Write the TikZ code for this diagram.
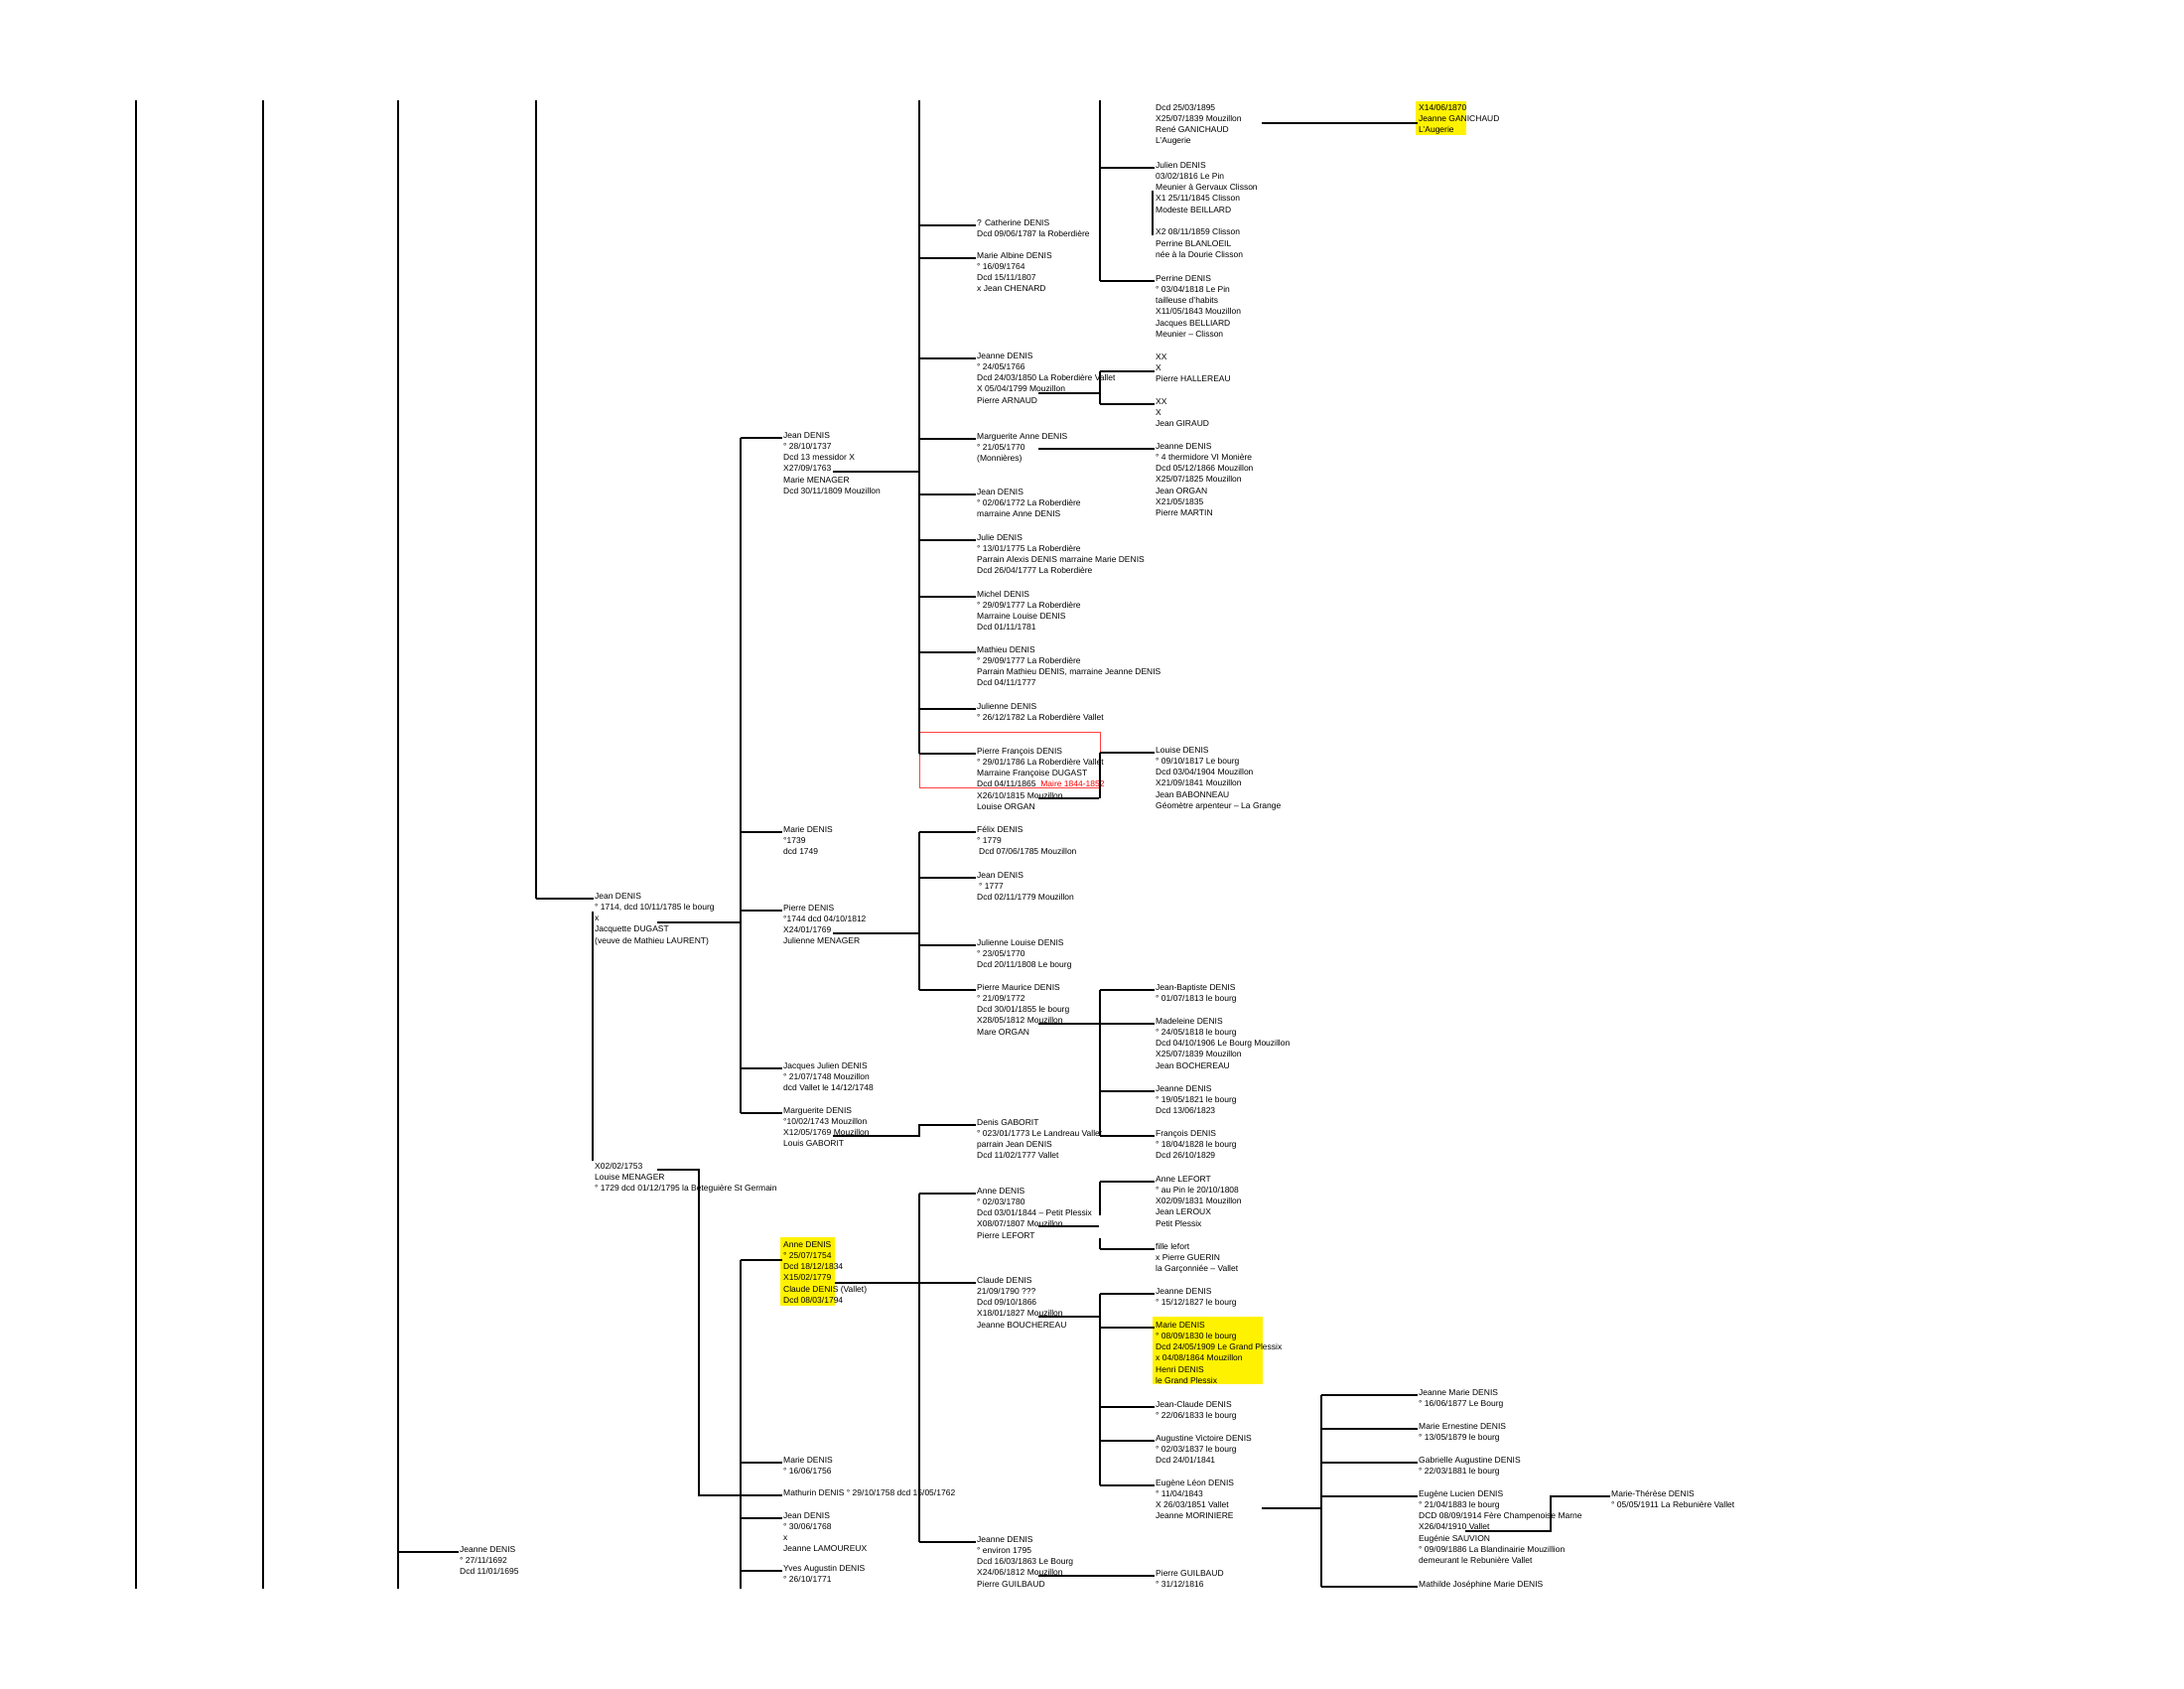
\documentclass[tikz,border=0pt]{standalone}
\usepackage{fontspec}
\setmainfont{Liberation Sans}
\usepackage{tikz}

% one text block per person, its baseline on the first line
\newcommand{\card}[1]{\begin{tabular}[t]{@{}l@{}}#1\end{tabular}}

\begin{document}
\begin{tikzpicture}[x=1pt, y=-1pt,
  person/.style={anchor=base west, inner sep=0pt, font=\fontsize{8.5}{11.3}\selectfont},
  link/.style={line width=1.2pt, shorten >=1.5pt},
  bus/.style={line width=1.6pt},
  page/.style={line width=1.3pt}]

  \useasboundingbox (0,0) rectangle (2200,1700);

  % bus lines of each generation
  \coordinate (busA) at (540,0);
  \coordinate (busB) at (746,0);
  \coordinate (busC) at (926,0);
  \coordinate (busD) at (1108,0);
  \coordinate (busE) at (1331,0);
  \coordinate (busF) at (1562,0);

  % highlights
  \fill[yellow] (786,1246) rectangle (841,1315);
  \fill[yellow] (1161,1326) rectangle (1272,1394);
  \fill[yellow] (1426,102) rectangle (1477,136);

  % Maire box
  \draw[red!75, line width=0.9pt] (926,737) rectangle (1108,793);

  % first columns
  \node[person] (jeanne1692) at (463,1563) {\card{Jeanne DENIS\\° 27/11/1692\\Dcd 11/01/1695}};
  \node[person] (jean1714) at (599,905) {\card{Jean DENIS\\° 1714, dcd 10/11/1785 le bourg\\x\\Jacquette DUGAST\\(veuve de Mathieu LAURENT)}};
  \node[person] (louise) at (599,1177) {\card{X02/02/1753\\Louise MENAGER\\° 1729 dcd 01/12/1795 la Beteguière St Germain}};

  % children of Jean DENIS
  \node[person] (jean1737) at (789,441) {\card{Jean DENIS\\° 28/10/1737\\Dcd 13 messidor X\\X27/09/1763\\Marie MENAGER\\Dcd 30/11/1809 Mouzillon}};
  \node[person] (marie1739) at (789,838) {\card{Marie DENIS\\°1739\\dcd 1749}};
  \node[person] (pierre1744) at (789,917) {\card{Pierre DENIS\\°1744 dcd 04/10/1812\\X24/01/1769\\Julienne  MENAGER}};
  \node[person] (jacques) at (789,1076) {\card{Jacques Julien DENIS\\° 21/07/1748 Mouzillon\\dcd Vallet le 14/12/1748}};
  \node[person] (marguerite1743) at (789,1121) {\card{Marguerite DENIS\\°10/02/1743 Mouzillon\\X12/05/1769 Mouzillon\\Louis GABORIT}};
  \node[person] (anne1754) at (789,1256) {\card{Anne DENIS\\° 25/07/1754\\Dcd 18/12/1834\\X15/02/1779\\Claude DENIS (Vallet)\\Dcd 08/03/1794}};
  \node[person] (marie1756) at (789,1473) {\card{Marie DENIS\\° 16/06/1756}};
  \node[person] (mathurin) at (789,1506) {\card{Mathurin DENIS ° 29/10/1758 dcd 15/05/1762}};
  \node[person] (jean1768) at (789,1529) {\card{Jean DENIS\\° 30/06/1768\\x\\Jeanne LAMOUREUX}};
  \node[person] (yves) at (789,1582) {\card{Yves Augustin DENIS\\° 26/10/1771}};

  % grandchildren
  \node[person] (catherine) at (984,227) {\card{? Catherine DENIS\\Dcd 09/06/1787 la Roberdière}};
  \node[person] (albine) at (984,260) {\card{Marie Albine DENIS\\° 16/09/1764\\Dcd 15/11/1807\\x Jean CHENARD}};
  \node[person] (jeanne1766) at (984,361) {\card{Jeanne DENIS\\° 24/05/1766\\Dcd 24/03/1850 La Roberdière Vallet\\X 05/04/1799 Mouzillon\\Pierre ARNAUD}};
  \node[person] (anne1770) at (984,442) {\card{Marguerite Anne DENIS\\° 21/05/1770\\(Monnières)}};
  \node[person] (jean1772) at (984,498) {\card{Jean DENIS\\° 02/06/1772 La Roberdière\\marraine Anne DENIS}};
  \node[person] (julie) at (984,544) {\card{Julie DENIS\\° 13/01/1775 La Roberdière\\Parrain Alexis DENIS marraine Marie DENIS\\Dcd 26/04/1777 La Roberdière}};
  \node[person] (michel) at (984,601) {\card{Michel DENIS\\° 29/09/1777 La Roberdière\\Marraine Louise DENIS\\Dcd 01/11/1781}};
  \node[person] (mathieu) at (984,657) {\card{Mathieu DENIS\\° 29/09/1777 La Roberdière\\Parrain Mathieu DENIS, marraine Jeanne DENIS\\Dcd 04/11/1777}};
  \node[person] (julienne) at (984,714) {\card{Julienne DENIS\\° 26/12/1782 La Roberdière Vallet}};
  \node[person] (pierrefr) at (984,759) {\card{Pierre François DENIS\\° 29/01/1786 La Roberdière Vallet\\Marraine Françoise DUGAST\\Dcd 04/11/1865 \ {\color{red}Maire 1844-1852}\\X26/10/1815 Mouzillon\\Louise ORGAN}};
  \node[person] (felix) at (984,838) {\card{Félix DENIS\\° 1779\\\hspace{2pt}Dcd 07/06/1785 Mouzillon}};
  \node[person] (jean1777) at (984,884) {\card{Jean DENIS\\\hspace{2pt}° 1777\\Dcd 02/11/1779 Mouzillon}};
  \node[person] (julienne1770) at (984,952) {\card{Julienne Louise DENIS\\° 23/05/1770\\Dcd 20/11/1808 Le bourg}};
  \node[person] (pierrem) at (984,997) {\card{Pierre Maurice  DENIS\\° 21/09/1772\\Dcd 30/01/1855 le bourg\\X28/05/1812 Mouzillon\\Mare ORGAN}};
  \node[person] (gaborit) at (984,1133) {\card{Denis GABORIT\\° 023/01/1773 Le Landreau Vallet\\parrain Jean DENIS\\Dcd 11/02/1777 Vallet}};
  \node[person] (anne1780) at (984,1202) {\card{Anne DENIS\\° 02/03/1780\\Dcd 03/01/1844 – Petit Plessix\\X08/07/1807 Mouzillon\\Pierre LEFORT}};
  \node[person] (claude) at (984,1292) {\card{Claude DENIS\\21/09/1790 ???\\Dcd 09/10/1866\\X18/01/1827 Mouzillon\\Jeanne BOUCHEREAU}};
  \node[person] (jeanne1795) at (984,1553) {\card{Jeanne DENIS\\° environ 1795\\Dcd 16/03/1863 Le Bourg\\X24/06/1812 Mouzillon\\Pierre GUILBAUD}};

  % next generation
  \node[person] (rene) at (1164,111) {\card{Dcd 25/03/1895\\X25/07/1839 Mouzillon\\René GANICHAUD\\L'Augerie}};
  \node[person] (julien) at (1164,169) {\card{Julien DENIS\\03/02/1816 Le Pin\\Meunier à Gervaux Clisson\\X1  25/11/1845 Clisson\\Modeste BEILLARD\\[11.3pt]X2  08/11/1859 Clisson\\Perrine BLANLOEIL\\née à la Dourie Clisson}};
  \node[person] (perrine) at (1164,283) {\card{Perrine DENIS\\° 03/04/1818 Le Pin\\tailleuse d'habits\\X11/05/1843 Mouzillon\\Jacques BELLIARD\\Meunier – Clisson}};
  \node[person] (hallereau) at (1164,362) {\card{XX\\X\\Pierre HALLEREAU}};
  \node[person] (giraud) at (1164,407) {\card{XX\\X\\Jean GIRAUD}};
  \node[person] (jeanne1798) at (1164,452) {\card{Jeanne DENIS\\° 4 thermidore VI  Monière\\Dcd 05/12/1866 Mouzillon\\X25/07/1825 Mouzillon\\Jean ORGAN\\X21/05/1835\\Pierre MARTIN}};
  \node[person] (louise1817) at (1164,758) {\card{Louise DENIS\\° 09/10/1817 Le bourg\\Dcd 03/04/1904 Mouzillon\\X21/09/1841 Mouzillon\\Jean BABONNEAU\\Géomètre arpenteur – La Grange}};
  \node[person] (jb) at (1164,997) {\card{Jean-Baptiste DENIS\\° 01/07/1813 le bourg}};
  \node[person] (madeleine) at (1164,1031) {\card{Madeleine DENIS\\° 24/05/1818 le bourg\\Dcd 04/10/1906 Le Bourg Mouzillon\\X25/07/1839 Mouzillon\\Jean BOCHEREAU}};
  \node[person] (jeanne1821) at (1164,1099) {\card{Jeanne DENIS\\° 19/05/1821 le bourg\\Dcd 13/06/1823}};
  \node[person] (francois) at (1164,1144) {\card{François DENIS\\° 18/04/1828 le bourg\\Dcd 26/10/1829}};
  \node[person] (lefort) at (1164,1190) {\card{Anne  LEFORT\\° au Pin le 20/10/1808\\X02/09/1831 Mouzillon\\Jean LEROUX\\Petit Plessix}};
  \node[person] (fille) at (1164,1258) {\card{fille lefort\\x Pierre GUERIN\\la Garçonniée  – Vallet}};
  \node[person] (jeanne1827) at (1164,1303) {\card{Jeanne DENIS\\° 15/12/1827 le bourg}};
  \node[person] (marie1830) at (1164,1337) {\card{Marie DENIS\\° 08/09/1830 le bourg\\Dcd 24/05/1909 Le Grand Plessix\\x 04/08/1864 Mouzillon\\Henri DENIS\\le Grand Plessix}};
  \node[person] (jeanclaude) at (1164,1417) {\card{Jean-Claude DENIS\\° 22/06/1833 le bourg}};
  \node[person] (augustine) at (1164,1451) {\card{Augustine Victoire DENIS\\° 02/03/1837 le bourg\\Dcd 24/01/1841}};
  \node[person] (leon) at (1164,1496) {\card{Eugène Léon DENIS\\° 11/04/1843\\X  26/03/1851 Vallet\\Jeanne MORINIERE}};
  \node[person] (guilbaud) at (1164,1587) {\card{Pierre GUILBAUD\\° 31/12/1816}};

  % last generations
  \node[person] (ganichaud) at (1429,111) {\card{X14/06/1870\\Jeanne GANICHAUD\\L'Augerie}};
  \node[person] (jeannemarie) at (1429,1405) {\card{Jeanne Marie DENIS\\° 16/06/1877 Le Bourg}};
  \node[person] (ernestine) at (1429,1439) {\card{Marie Ernestine DENIS\\° 13/05/1879 le bourg}};
  \node[person] (gabrielle) at (1429,1473) {\card{Gabrielle  Augustine DENIS\\° 22/03/1881 le bourg}};
  \node[person] (lucien) at (1429,1507) {\card{Eugène Lucien DENIS\\° 21/04/1883 le bourg\\DCD 08/09/1914 Fère Champenoise Marne\\X26/04/1910 Vallet\\Eugénie SAUVION\\° 09/09/1886 La Blandinairie  Mouzillion\\demeurant le Rebunière Vallet}};
  \node[person] (mathilde) at (1429,1598) {\card{Mathilde Joséphine  Marie DENIS}};
  \node[person] (therese) at (1623,1507) {\card{Marie-Thérèse DENIS\\° 05/05/1911 La Rebunière Vallet}};

  % page lines on the left
  \draw[page] (137,101) -- (137,1600);
  \draw[page] (265,101) -- (265,1600);
  \draw[page] (401,101) -- (401,1600);
  \draw[link] (401,1563) -- (jeanne1692.base west);
  \draw[page] (busA |- 0,101) -- (busA |- jean1714.base);
  \draw[link] (busA |- jean1714.base) -- (jean1714.base west);

  % Jean DENIS x Jacquette DUGAST
  \draw[bus] (busB |- jean1737.base) -- (busB |- marguerite1743.base);
  \draw[link] (662,929) -- (busB |- 0,929);
  \draw[link] (busB |- jean1737.base) -- (jean1737.base west);
  \draw[link] (busB |- marie1739.base) -- (marie1739.base west);
  \draw[link] (busB |- pierre1744.base) -- (pierre1744.base west);
  \draw[link] (busB |- jacques.base) -- (jacques.base west);
  \draw[link] (busB |- marguerite1743.base) -- (marguerite1743.base west);

  % second marriage : Louise MENAGER
  \draw[link] (597,918) -- (597,1170);
  \draw[bus, shorten >=1.5pt] (662,1178) -- (704,1178) |- (mathurin.base west);
  \draw[bus] (busB |- 0,1269) -- (busB |- 0,1600);
  \draw[link] (busB |- 0,1269) -- ([yshift=-13pt]anne1754.base west);
  \draw[link] (busB |- marie1756.base) -- (marie1756.base west);
  \draw[link] (busB |- jean1768.base) -- (jean1768.base west);
  \draw[link] (busB |- yves.base) -- (yves.base west);

  % Jean DENIS x Marie MENAGER
  \draw[bus] (busC |- 0,101) -- (busC |- pierrefr.base);
  \draw[link] (839,475) -- (busC |- 0,475);
  \draw[link] (busC |- catherine.base) -- (catherine.base west);
  \draw[link] (busC |- albine.base) -- (albine.base west);
  \draw[link] (busC |- jeanne1766.base) -- (jeanne1766.base west);
  \draw[link] (busC |- anne1770.base) -- (anne1770.base west);
  \draw[link] (busC |- jean1772.base) -- (jean1772.base west);
  \draw[link] (busC |- julie.base) -- (julie.base west);
  \draw[link] (busC |- michel.base) -- (michel.base west);
  \draw[link] (busC |- mathieu.base) -- (mathieu.base west);
  \draw[link] (busC |- julienne.base) -- (julienne.base west);
  \draw[link] (busC |- pierrefr.base) -- (pierrefr.base west);

  % Pierre DENIS x Julienne MENAGER
  \draw[bus] (busC |- felix.base) -- (busC |- pierrem.base);
  \draw[link] (839,940) -- (busC |- 0,940);
  \draw[link] (busC |- felix.base) -- (felix.base west);
  \draw[link] (busC |- jean1777.base) -- (jean1777.base west);
  \draw[link] (busC |- julienne1770.base) -- (julienne1770.base west);
  \draw[link] (busC |- pierrem.base) -- (pierrem.base west);

  % Marguerite DENIS x Louis GABORIT
  \draw[link] (839,1144) -- (busC |- 0,1144) -- (busC |- gaborit.base) -- (gaborit.base west);

  % Anne DENIS x Claude DENIS
  \draw[bus] (busC |- anne1780.base) -- (busC |- jeanne1795.base);
  \draw[link] (841,1292) -- (claude.base west);
  \draw[link] (busC |- anne1780.base) -- (anne1780.base west);
  \draw[link] (busC |- jeanne1795.base) -- (jeanne1795.base west);

  % top of the page
  \draw[bus] (busD |- 0,101) -- (busD |- perrine.base);
  \draw[link] (busD |- julien.base) -- (julien.base west);
  \draw[link] (busD |- perrine.base) -- (perrine.base west);
  \draw[link] ([xshift=-3pt,yshift=-23pt]julien.base west) -- ++(0,46);
  \draw[link] (1271,124) -- ([yshift=-13pt]ganichaud.base west);

  % Jeanne DENIS x Pierre ARNAUD
  \draw[link] (1046,396) -- (busD |- 0,396);
  \draw[bus] (busD |- 0,374) -- (busD |- giraud.base);
  \draw[link] (busD |- 0,374) -- ([yshift=-12pt]hallereau.base west);
  \draw[link] (busD |- giraud.base) -- (giraud.base west);

  % Marguerite Anne DENIS
  \draw[link] (1046,452) -- (jeanne1798.base west);

  % Pierre Francois DENIS x Louise ORGAN
  \draw[link] (1046,804) -- (busD |- 0,804);
  \draw[bus] (busD |- louise1817.base) -- (busD |- 0,804);
  \draw[link] (busD |- louise1817.base) -- (louise1817.base west);

  % Pierre Maurice DENIS x Marie ORGAN
  \draw[bus] (busD |- jb.base) -- (busD |- francois.base);
  \draw[link] (1046,1031) -- (madeleine.base west);
  \draw[link] (busD |- jb.base) -- (jb.base west);
  \draw[link] (busD |- jeanne1821.base) -- (jeanne1821.base west);
  \draw[link] (busD |- francois.base) -- (francois.base west);

  % Anne DENIS x Pierre LEFORT
  \draw[link] (1046,1235) -- (busD |- 0,1235);
  \draw[bus] (busD |- lefort.base) -- (busD |- 0,1224);
  \draw[bus] (busD |- 0,1247) -- (busD |- fille.base);
  \draw[link] (busD |- lefort.base) -- (lefort.base west);
  \draw[link] (busD |- fille.base) -- (fille.base west);

  % Claude DENIS x Jeanne BOUCHEREAU
  \draw[link] (1046,1326) -- (busD |- 0,1326);
  \draw[bus] (busD |- jeanne1827.base) -- (busD |- leon.base);
  \draw[link] (busD |- jeanne1827.base) -- (jeanne1827.base west);
  \draw[link] (busD |- marie1830.base) -- (marie1830.base west);
  \draw[link] (busD |- jeanclaude.base) -- (jeanclaude.base west);
  \draw[link] (busD |- augustine.base) -- (augustine.base west);
  \draw[link] (busD |- leon.base) -- (leon.base west);

  % Jeanne DENIS x Pierre GUILBAUD
  \draw[bus, shorten >=1.5pt] (1046,1587) -- (guilbaud.base west);

  % Eugene Leon DENIS x Jeanne MORINIERE
  \draw[bus] (1271,1519) -- (busE |- 0,1519);
  \draw[bus] (busE |- jeannemarie.base) -- (busE |- mathilde.base);
  \draw[link] (busE |- jeannemarie.base) -- (jeannemarie.base west);
  \draw[link] (busE |- ernestine.base) -- (ernestine.base west);
  \draw[link] (busE |- gabrielle.base) -- (gabrielle.base west);
  \draw[link] (busE |- lucien.base) -- (lucien.base west);
  \draw[link] (busE |- mathilde.base) -- (mathilde.base west);

  % Eugene Lucien DENIS x Eugenie SAUVION
  \draw[link] (1476,1542) -- (busF |- 0,1542) -- (busF |- therese.base) -- (therese.base west);

\end{tikzpicture}
\end{document}
